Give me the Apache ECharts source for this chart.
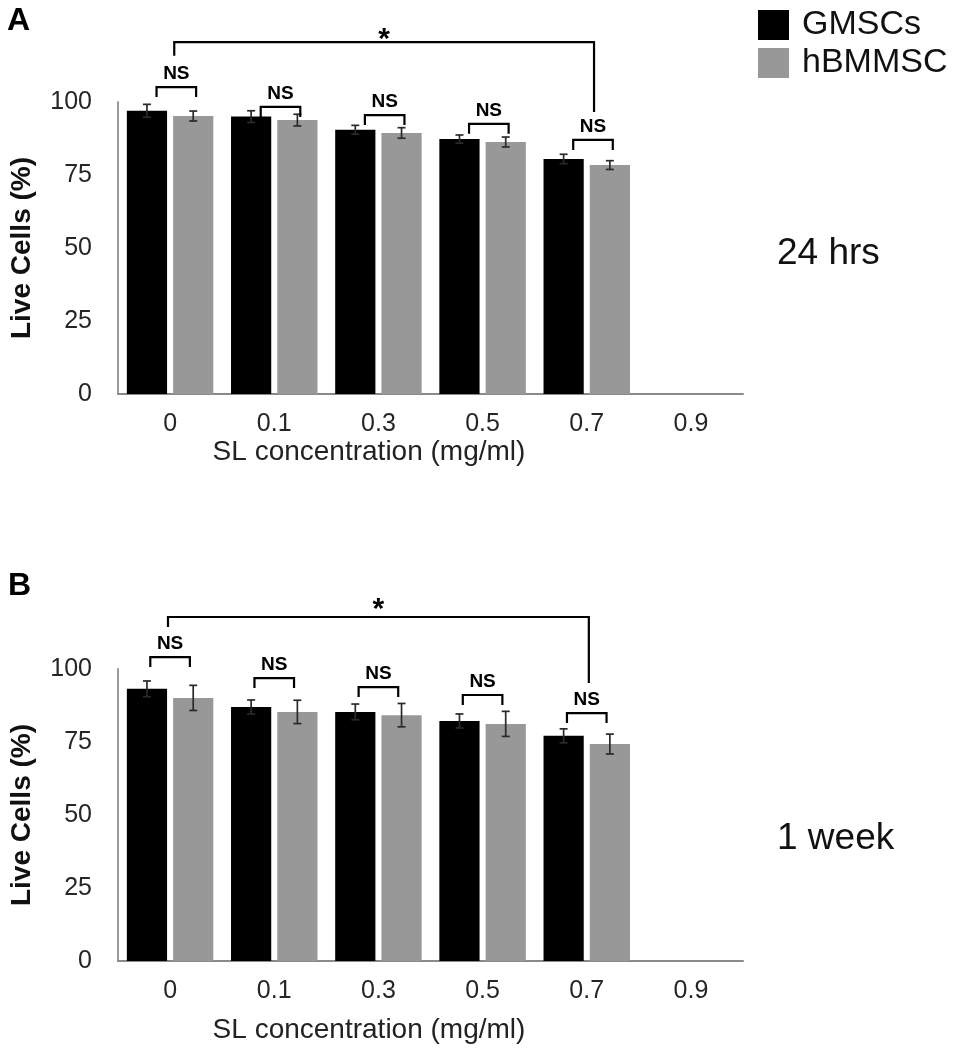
<!DOCTYPE html>
<html><head><meta charset="utf-8">
<script src="https://cdn.jsdelivr.net/npm/echarts@6/dist/echarts.min.js"></script>
<style>html,body{margin:0;padding:0;background:#fff}#c{width:953px;height:1050px}</style>
</head><body><div id="c"></div>
<script>
// ---------- data ----------
const categories = ['0', '0.1', '0.3', '0.5', '0.7', '0.9'];
const yTickStep = 25;
const seriesNames = ['GMSCs', 'hBMMSC'];
// Panel A (24 hrs)
const gmscA    = [97.0, 95.0, 90.5, 87.3, 80.5, null];
const gmscAErr = [2.2, 2.0, 1.5, 1.4, 1.6, null];
const hbmA     = [95.2, 93.8, 89.4, 86.3, 78.4, null];
const hbmAErr  = [1.7, 2.0, 1.8, 1.7, 1.5, null];
// Panel B (1 week)
const gmscB    = [93.2, 87.0, 85.3, 82.2, 77.1, null];
const gmscBErr = [2.7, 2.4, 2.7, 2.4, 2.4, null];
const hbmB     = [90.1, 85.3, 84.2, 81.2, 74.3, null];
const hbmBErr  = [4.3, 4.0, 4.0, 4.3, 3.4, null];
// significance annotations (y in data units)
const nsLabel = 'NS';
const nsLevelA = [105.1, 98.3, 95.5, 92.5, 87.0];
const nsLevelB = [104.1, 96.9, 93.8, 91.1, 84.9];
const starLabel = '*';
const starA = [0, 4, 120.5, 115.8, 96.6];   // from cat, to cat, level, left leg end, right leg end
const starB = [0, 4, 117.8, 114.4, 95.2];
const timeLabels = ['24 hrs', '1 week'];
const panelLabels = ['A', 'B'];
const yTitle = 'Live Cells (%)';
const xTitle = 'SL concentration (mg/ml)';

// ---------- style ----------
const FONT = "'Liberation Sans', Arial, sans-serif";
const CAT_GAP = 0.17, BAR_GAP = 0.15;
const colors = ['#000000', '#989898'];
const grids = [
  {left: 117, top: 102, width: 626, height: 292},
  {left: 117, top: 669, width: 626, height: 292}
];

function barOffset(api, sIdx) {
  const band = api.size([1, 0])[0];
  const bw = band * (1 - CAT_GAP) / (2 + BAR_GAP);
  return (bw * (1 + BAR_GAP)) / 2 * (sIdx === 0 ? -1 : 1);
}
function errRender(sIdx) {
  return function (params, api) {
    const i = api.value(0), v = api.value(1), e = api.value(2);
    const off = barOffset(api, sIdx);
    const top = api.coord([i, v + e]), bot = api.coord([i, v - e]);
    const x = top[0] + off, cw = 4;
    const st = {stroke: '#2a2a2a', lineWidth: 1.7};
    return {type: 'group', children: [
      {type: 'line', shape: {x1: x, y1: top[1], x2: x, y2: bot[1]}, style: st},
      {type: 'line', shape: {x1: x - cw, y1: top[1], x2: x + cw, y2: top[1]}, style: st},
      {type: 'line', shape: {x1: x - cw, y1: bot[1], x2: x + cw, y2: bot[1]}, style: st}
    ]};
  };
}
function nsRender(offL, offR, textOff) {
  return function (params, api) {
    const i = api.value(0), lv = api.value(1);
    const band = api.size([1, 0])[0];
    const p = api.coord([i, lv]);
    const yLeg = api.coord([i, lv - 3.4])[1];
    const x1 = p[0] + offL * band, x2 = p[0] + offR * band;
    return {type: 'group', children: [
      {type: 'polyline', shape: {points: [[x1, yLeg], [x1, p[1]], [x2, p[1]], [x2, yLeg]]},
        style: {stroke: '#000', lineWidth: 2.2, fill: null}},
      {type: 'text', x: (x1 + x2) / 2 + textOff, y: p[1] - 4,
        style: {text: nsLabel, textAlign: 'center', textVerticalAlign: 'bottom',
          font: "bold 19px " + FONT, fill: '#000'}}
    ]};
  };
}
function starRender(offL, offR, textDy) {
  return function (params, api) {
    const a = api.value(0), b = api.value(1), lv = api.value(2), le = api.value(3), re = api.value(4);
    const band = api.size([1, 0])[0];
    const pa = api.coord([a, lv]), pb = api.coord([b, lv]);
    const yl = api.coord([a, le])[1], yr = api.coord([b, re])[1];
    const x1 = pa[0] + offL * band, x2 = pb[0] + offR * band;
    return {type: 'group', children: [
      {type: 'polyline', shape: {points: [[x1, yl], [x1, pa[1]], [x2, pa[1]], [x2, yr]]},
        style: {stroke: '#000', lineWidth: 2.2, fill: null}},
      {type: 'text', x: (x1 + x2) / 2, y: pa[1] + textDy,
        style: {text: starLabel, textAlign: 'center', textVerticalAlign: 'middle',
          font: "bold 30px " + FONT, fill: '#000'}}
    ]};
  };
}
function errData(vals, errs) {
  const out = [];
  vals.forEach((v, i) => { if (v != null) out.push([i, v, errs[i]]); });
  return out;
}

const xAxes = grids.map((g, gi) => ({
  type: 'category', gridIndex: gi, data: categories,
  axisLine: {lineStyle: {color: '#8a8a8a', width: 2}},
  axisTick: {show: false},
  axisLabel: {fontSize: 25, color: '#262626', margin: 18, fontFamily: FONT}
}));
const yAxes = grids.map((g, gi) => ({
  type: 'value', gridIndex: gi, min: 0, max: 100, interval: yTickStep,
  axisLine: {show: true, lineStyle: {color: '#9a9a9a', width: 2}},
  axisTick: {show: false}, splitLine: {show: false},
  axisLabel: {fontSize: 25, color: '#262626', margin: 26, fontFamily: FONT},
  name: yTitle, nameLocation: 'middle', nameGap: 82,
  nameTextStyle: {fontSize: 28, fontWeight: 'bold', color: '#111', fontFamily: FONT}
}));

const panels = [
  {g: gmscA, ge: gmscAErr, h: hbmA, he: hbmAErr, ns: nsLevelA, star: starA, nsOff: [-0.13, 0.25, 0], starOff: [0.04, 0.07, -2]},
  {g: gmscB, ge: gmscBErr, h: hbmB, he: hbmBErr, ns: nsLevelB, star: starB, nsOff: [-0.19, 0.19, 0], starOff: [-0.02, 0.02, -7]}
];
const series = [];
panels.forEach((p, gi) => {
  series.push({name: seriesNames[0], type: 'bar', xAxisIndex: gi, yAxisIndex: gi, data: p.g,
    barCategoryGap: (CAT_GAP * 100) + '%', barGap: (BAR_GAP * 100) + '%', itemStyle: {color: colors[0]}});
  series.push({name: seriesNames[1], type: 'bar', xAxisIndex: gi, yAxisIndex: gi, data: p.h,
    barCategoryGap: (CAT_GAP * 100) + '%', barGap: (BAR_GAP * 100) + '%', itemStyle: {color: colors[1]}});
  series.push({type: 'custom', xAxisIndex: gi, yAxisIndex: gi, renderItem: errRender(0), data: errData(p.g, p.ge), z: 5});
  series.push({type: 'custom', xAxisIndex: gi, yAxisIndex: gi, renderItem: errRender(1), data: errData(p.h, p.he), z: 5});
  series.push({type: 'custom', xAxisIndex: gi, yAxisIndex: gi, clip: false,
    renderItem: nsRender(p.nsOff[0], p.nsOff[1], p.nsOff[2]), data: p.ns.map((v, i) => [i, v]), z: 6});
  series.push({type: 'custom', xAxisIndex: gi, yAxisIndex: gi, clip: false,
    renderItem: starRender(p.starOff[0], p.starOff[1], p.starOff[2]), data: [p.star], z: 6});
});

const chart = echarts.init(document.getElementById('c'), null, {renderer: 'canvas'});
chart.setOption({
  animation: false,
  backgroundColor: '#fff',
  textStyle: {fontFamily: FONT},
  grid: grids,
  xAxis: xAxes,
  yAxis: yAxes,
  legend: {
    data: seriesNames, orient: 'vertical', left: 753, top: 3, icon: 'rect',
    itemWidth: 31, itemHeight: 30, itemGap: 4, selectedMode: false,
    textStyle: {fontSize: 34, color: '#111', fontFamily: FONT, padding: [0, 0, 0, 8]}
  },
  graphic: [
    {type: 'text', x: 7, y: 21, style: {text: panelLabels[0], font: 'bold 32px ' + FONT, fill: '#000', textVerticalAlign: 'middle'}},
    {type: 'text', x: 8, y: 586, style: {text: panelLabels[1], font: 'bold 32px ' + FONT, fill: '#000', textVerticalAlign: 'middle'}},
    {type: 'text', x: 369, y: 452, style: {text: xTitle, font: '28px ' + FONT, fill: '#222', textAlign: 'center', textVerticalAlign: 'middle'}},
    {type: 'text', x: 369, y: 1030, style: {text: xTitle, font: '28px ' + FONT, fill: '#222', textAlign: 'center', textVerticalAlign: 'middle'}},
    {type: 'text', x: 777, y: 254, style: {text: timeLabels[0], font: '37px ' + FONT, fill: '#111', textVerticalAlign: 'middle'}},
    {type: 'text', x: 777, y: 839, style: {text: timeLabels[1], font: '37px ' + FONT, fill: '#111', textVerticalAlign: 'middle'}}
  ],
  series: series
});
</script></body></html>
